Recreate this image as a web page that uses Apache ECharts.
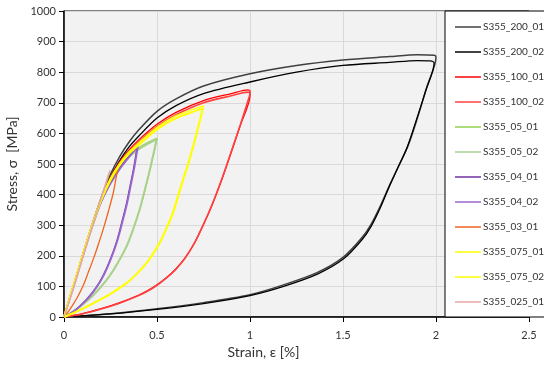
<!DOCTYPE html>
<html>
<head>
<meta charset="utf-8">
<script src="https://cdn.jsdelivr.net/npm/echarts@6/dist/echarts.min.js"></script>
<style>
  html, body { margin: 0; padding: 0; background: #fff; }
  #chart { width: 544px; height: 365px; }
</style>
</head>
<body>
<div id="chart"></div>
<script>
// Stress-strain hysteresis loops, [strain %, stress MPa]

const names = ['S355_200_01', 'S355_200_02', 'S355_100_01', 'S355_100_02', 'S355_05_01', 'S355_05_02',
	'S355_04_01', 'S355_04_02', 'S355_03_01', 'S355_075_01', 'S355_075_02', 'S355_025_01'];

const s200_01 = [[0,0],[0.05,100],[0.1,202],[0.15,300],[0.2,390],[0.25,466],[0.3,525],[0.35,572],[0.4,610],[0.5,672],[0.6,712],
	[0.75,755],[1.0,795],[1.25,822],[1.5,840],[1.75,851],[1.9,857],[1.99,855],[2.0,850],
	[1.95,750],[1.9,650],[1.85,560],[1.8,495],[1.75,430],[1.7,362],[1.65,302],[1.6,258],[1.5,195],
	[1.36,145],[1.18,105],[1.0,73],[0.75,47],[0.5,27],[0.25,11],[0,0]];
const s200_02 = [[0,0],[0.05,98],[0.1,199],[0.15,296],[0.2,384],[0.25,456],[0.3,512],[0.35,556],[0.4,590],[0.5,650],[0.6,690],
	[0.75,730],[1.0,768],[1.25,800],[1.5,822],[1.75,832],[1.9,838],[1.97,837],[1.99,830],
	[1.945,740],[1.895,645],[1.845,555],[1.797,490],[1.748,425],[1.7,356],[1.652,297],[1.604,254],[1.505,191],
	[1.365,141],[1.185,101],[1.0,70],[0.75,44],[0.5,25],[0.25,10],[0,0]];
const s100_01 = [[0,0],[0.05,100],[0.1,201],[0.15,298],[0.2,386],[0.25,455],[0.3,508],[0.35,546],[0.4,578],[0.5,630],[0.6,668],
	[0.75,707],[0.9,730],[0.99,742],[1.0,738],
	[1.0,725],[0.95,630],[0.9,540],[0.85,452],[0.8,372],[0.75,302],[0.7,240],[0.65,192],[0.6,156],[0.55,128],
	[0.5,105],[0.45,86],[0.4,71],[0.3,47],[0.2,27],[0.1,11],[0,0]];
const s100_02 = [[0,0],[0.05,99],[0.1,200],[0.15,296],[0.2,383],[0.25,450],[0.3,502],[0.35,540],[0.4,571],[0.5,622],[0.6,660],
	[0.75,700],[0.9,723],[0.99,735],[1.0,730],
	[0.995,718],[0.948,628],[0.898,538],[0.848,450],[0.798,370],[0.748,300],[0.698,238],[0.648,190],[0.598,154],
	[0.548,126],[0.498,103],[0.448,84],[0.398,69],[0.298,45],[0.198,26],[0.098,10],[0,0]];
const s05_01 = [[0,0],[0.05,100],[0.1,200],[0.15,296],[0.2,383],[0.25,448],[0.3,496],[0.35,528],[0.4,552],[0.45,570],[0.5,584],
	[0.49,555],[0.475,515],[0.462,480],[0.435,415],[0.409,355],[0.375,292],[0.337,232],[0.29,178],[0.247,136],
	[0.2,100],[0.158,72],[0.11,46],[0.068,26],[0.03,10],[0,0]];
const s05_02 = [[0,0],[0.05,99],[0.1,198],[0.15,293],[0.2,379],[0.25,443],[0.3,490],[0.35,523],[0.4,548],[0.45,566],[0.497,580],
	[0.488,552],[0.473,512],[0.46,477],[0.433,412],[0.407,352],[0.373,289],[0.335,229],[0.288,176],[0.245,134],
	[0.198,98],[0.156,70],[0.108,44],[0.066,25],[0.028,9],[0,0]];
const s04_01 = [[0,0],[0.05,100],[0.1,200],[0.15,296],[0.2,380],[0.25,440],[0.3,488],[0.35,526],[0.393,555],
	[0.385,525],[0.373,482],[0.355,428],[0.337,374],[0.31,308],[0.283,247],[0.25,190],[0.211,136],[0.17,94],
	[0.122,58],[0.08,33],[0.05,18],[0,0]];
const s04_02 = [[0,0],[0.05,99],[0.1,198],[0.15,293],[0.2,376],[0.25,436],[0.3,484],[0.35,523],[0.398,558],
	[0.389,527],[0.377,484],[0.359,430],[0.341,376],[0.314,310],[0.287,249],[0.254,192],[0.215,138],[0.174,96],
	[0.126,59],[0.084,34],[0.053,19],[0,0]];
const s03_01 = [[0,0],[0.05,100],[0.1,201],[0.15,298],[0.2,385],[0.25,447],[0.275,470],[0.288,480],
	[0.28,455],[0.265,406],[0.238,344],[0.211,287],[0.185,238],[0.158,190],[0.13,145],[0.104,104],[0.075,68],
	[0.05,42],[0.025,19],[0,0]];
const s075_01 = [[0,0],[0.05,101],[0.1,202],[0.15,299],[0.2,387],[0.25,454],[0.3,503],[0.35,540],[0.4,568],[0.5,620],[0.6,657],[0.7,680],[0.75,690],
	[0.745,676],[0.72,615],[0.695,556],[0.668,500],[0.641,448],[0.615,395],[0.588,342],[0.55,287],[0.516,243],
	[0.462,190],[0.42,159],[0.38,134],[0.337,111],[0.25,76],[0.158,45],[0.068,18],[0,0]];
const s075_02 = [[0,0],[0.05,100],[0.1,200],[0.15,296],[0.2,382],[0.25,448],[0.3,497],[0.35,534],[0.4,561],[0.5,613],[0.6,649],[0.7,672],[0.745,681],
	[0.741,668],[0.716,608],[0.691,550],[0.664,494],[0.637,443],[0.611,391],[0.584,338],[0.546,284],[0.512,240],
	[0.458,188],[0.416,157],[0.376,132],[0.333,109],[0.246,74],[0.154,44],[0.064,17],[0,0]];
const s025_01 = [[0,0],[0.05,96],[0.1,196],[0.15,294],[0.2,388],[0.225,432],[0.248,480],
	[0.24,468],[0.215,420],[0.19,372],[0.15,290],[0.1,190],[0.05,90],[0,0]];

const seriesData = [s200_01, s200_02, s100_01, s100_02, s05_01, s05_02, s04_01, s04_02, s03_01, s075_01, s075_02, s025_01];
const colors = ['#404040', '#000000', '#ff0000', '#ff4040', '#92d050', '#a9d18e',
	'#7030a0', '#9966cc', '#f0641e', '#ffff00', '#ffff00', '#e6a6a6'];
const widths = [1.5, 1.3, 1.3, 1.6, 1.3, 2, 1.3, 1.8, 1.3, 1.4, 2, 1.2];

const chart = echarts.init(document.getElementById('chart'), null, { renderer: 'canvas' });

const font = 'Lato';

const option = {
	animation: false,
	textStyle: { fontFamily: font },
	grid: {
		left: 64, right: 15, top: 11, bottom: 48,
		outerBoundsMode: 'none',
		show: true, backgroundColor: '#f2f2f2', borderColor: '#000', borderWidth: 1
	},
	legend: {
		orient: 'vertical',
		left: 445, top: 11,
		padding: [11, 120, 10, 10],
		backgroundColor: '#ffffff',
		borderColor: '#000', borderWidth: 1, borderRadius: 0,
		icon: 'path://M0,0 L28,0 L28,1.6 L0,1.6 Z',
		itemWidth: 26, itemHeight: 14, itemGap: 15,
		textStyle: { fontSize: 10, color: '#333', fontFamily: font, padding: [0, 0, 0, -3] },
		data: names
	},
	xAxis: {
		type: 'value', min: 0, max: 2.5, interval: 0.5,
		name: 'Strain, ε [%]', nameLocation: 'middle', nameGap: 28,
		nameTextStyle: { fontSize: 14, color: '#333', padding: [0, 66, 0, 0] },
		axisLine: { onZero: false, lineStyle: { color: '#000', width: 1.5 } },
		axisTick: { show: true, length: 5, lineStyle: { color: '#000' } },
		axisLabel: { fontSize: 11, color: '#333', margin: 13 },
		splitLine: { show: true, lineStyle: { color: '#d9d9d9', width: 1 } }
	},
	yAxis: {
		type: 'value', min: 0, max: 1000, interval: 100,
		name: 'Stress, σ  [MPa]', nameLocation: 'middle', nameGap: 36,
		nameTextStyle: { fontSize: 14, color: '#333' },
		axisLine: { show: true, lineStyle: { color: '#000', width: 1.5 } },
		axisTick: { show: true, length: 5, lineStyle: { color: '#000' } },
		axisLabel: { fontSize: 11, color: '#333', margin: 8, formatter: v => String(v) },
		splitLine: { show: true, lineStyle: { color: '#d9d9d9', width: 1 } }
	},
	series: names.map((n, i) => ({
		name: n,
		type: 'line',
		data: seriesData[i],
		showSymbol: false,
		symbol: 'none',
		smooth: 0.3,
		color: colors[i],
		lineStyle: { color: colors[i], width: widths[i] },
		z: 2 + i
	}))
};

chart.setOption(option);
</script>
</body>
</html>
